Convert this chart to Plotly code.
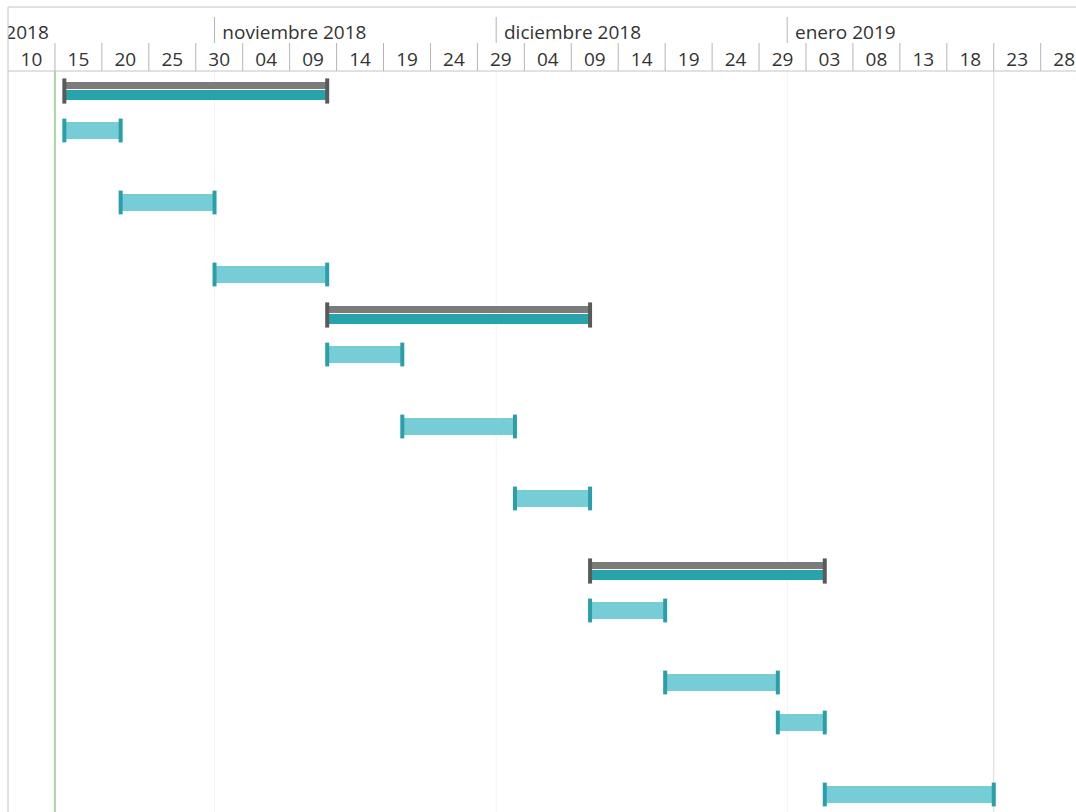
import pandas as pd
import plotly.graph_objects as go

# ---- schedule data ----
task_start = ["2018-10-16", "2018-10-16", "2018-10-22", "2018-11-01",
              "2018-11-13", "2018-11-13", "2018-11-21", "2018-12-03",
              "2018-12-11", "2018-12-11", "2018-12-19", "2018-12-31",
              "2019-01-05"]
task_end = ["2018-11-13", "2018-10-22", "2018-11-01", "2018-11-13",
            "2018-12-11", "2018-11-21", "2018-12-03", "2018-12-11",
            "2019-01-05", "2018-12-19", "2018-12-31", "2019-01-05",
            "2019-01-23"]
is_summary = [True, False, False, False, True, False, False, False,
              True, False, False, False, False]

today = "2018-10-15"
project_end = "2019-01-23"

# ---- timescale labels ----
month_starts = ["2018-10-01", "2018-11-01", "2018-12-01", "2019-01-01"]
month_labels = ["octubre 2018", "noviembre 2018", "diciembre 2018", "enero 2019"]
day_ticks = ["2018-10-10", "2018-10-15", "2018-10-20", "2018-10-25", "2018-10-30",
             "2018-11-04", "2018-11-09", "2018-11-14", "2018-11-19", "2018-11-24",
             "2018-11-29", "2018-12-04", "2018-12-09", "2018-12-14", "2018-12-19",
             "2018-12-24", "2018-12-29", "2019-01-03", "2019-01-08", "2019-01-13",
             "2019-01-18", "2019-01-23", "2019-01-28"]
view_start = "2018-10-10"
view_end = "2019-01-31 18:15"

# ---- layout constants (pixels) ----
W, H = 1076, 812
M_LEFT, M_TOP = 8, 7
HEADER_H = 64
BODY_H = H - M_TOP - HEADER_H
PLOT_H = H - M_TOP
row_heights = [40, 72, 72, 40, 40, 72, 72, 72, 40, 72, 40, 72, 40]
ROW_PAD = 20

FONT = "Open Sans"
TEXT_COLOR = "#333333"
TEAL = "#29a3ab"
TEAL_LIGHT = "#77cdd6"
TEAL_CAP = "#2a9fa9"
GREY_BAND = "#7b7b7b"
GREY_CAP = "#5a5a5a"

# row centres inside the body axis (reversed, one unit per pixel)
row_centers = []
acc = 0
for h in row_heights:
    row_centers.append(acc + ROW_PAD)
    acc += h

starts = pd.to_datetime(task_start)
ends = pd.to_datetime(task_end)
durations_ms = [(e - s).total_seconds() * 1000 for s, e in zip(starts, ends)]

fig = go.Figure()

sum_idx = [i for i, s in enumerate(is_summary) if s]
task_idx = [i for i, s in enumerate(is_summary) if not s]

# summary bars: grey band on top, teal band below
fig.add_trace(go.Bar(
    orientation="h",
    base=[task_start[i] for i in sum_idx],
    x=[durations_ms[i] for i in sum_idx],
    y=[row_centers[i] - 5.5 for i in sum_idx],
    width=7, marker=dict(color=GREY_BAND, line=dict(width=0)),
    hoverinfo="skip",
))
fig.add_trace(go.Bar(
    orientation="h",
    base=[task_start[i] for i in sum_idx],
    x=[durations_ms[i] for i in sum_idx],
    y=[row_centers[i] + 4 for i in sum_idx],
    width=10, marker=dict(color=TEAL, line=dict(width=0)),
    hoverinfo="skip",
))
# task bars
fig.add_trace(go.Bar(
    orientation="h",
    base=[task_start[i] for i in task_idx],
    x=[durations_ms[i] for i in task_idx],
    y=[row_centers[i] - 0.5 for i in task_idx],
    width=17, marker=dict(color=TEAL_LIGHT, line=dict(width=0)),
    hoverinfo="skip",
))

# end caps
for idx, size, color in ((sum_idx, 18, GREY_CAP), (task_idx, 17, TEAL_CAP)):
    xs, ys = [], []
    for i in idx:
        c = row_centers[i] if is_summary[i] else row_centers[i] - 0.5
        xs += [task_start[i], task_end[i]]
        ys += [c, c]
    fig.add_trace(go.Scatter(
        x=xs, y=ys, mode="markers",
        marker=dict(symbol="line-ns", size=size,
                    line=dict(width=4, color=color)),
        hoverinfo="skip",
    ))

# header: month row
fig.add_trace(go.Scatter(
    x=[pd.Timestamp(d) + pd.Timedelta(hours=20) for d in month_starts],
    y=[27] * len(month_starts),
    mode="text", text=month_labels, textposition="middle right",
    textfont=dict(family=FONT, size=19, color=TEXT_COLOR),
    cliponaxis=True, hoverinfo="skip", yaxis="y2",
))
# header: day row, label centred in each five-day cell
fig.add_trace(go.Scatter(
    x=[pd.Timestamp(d) + pd.Timedelta(days=2.5) for d in day_ticks],
    y=[54] * len(day_ticks),
    mode="text", text=[pd.Timestamp(d).strftime("%d") for d in day_ticks],
    textposition="middle center",
    textfont=dict(family=FONT, size=19, color=TEXT_COLOR),
    cliponaxis=True, hoverinfo="skip", yaxis="y2",
))

shapes = []
# month separators in the header and faint month gridlines in the body
for d in month_starts[1:]:
    shapes.append(dict(type="line", xref="x", yref="y2", x0=d, x1=d, y0=10, y1=36,
                       line=dict(color="#b4b4b4", width=1)))
    shapes.append(dict(type="line", xref="x", yref="y", x0=d, x1=d, y0=0, y1=BODY_H,
                       line=dict(color="#f3f3f3", width=1), layer="below"))
# day-cell separators
for d in day_ticks[1:]:
    shapes.append(dict(type="line", xref="x", yref="y2", x0=d, x1=d, y0=36, y1=64,
                       line=dict(color="#b4b4b4", width=1)))
# header rule, top border and left border
shapes.append(dict(type="line", xref="paper", yref="paper", x0=0, x1=1,
                   y0=BODY_H / PLOT_H, y1=BODY_H / PLOT_H,
                   line=dict(color="#c4c4c4", width=1)))
shapes.append(dict(type="line", xref="paper", yref="paper", x0=0, x1=1, y0=1, y1=1,
                   line=dict(color="#c4c4c4", width=1)))
shapes.append(dict(type="line", xref="paper", yref="paper", x0=0, x1=0, y0=0, y1=1,
                   line=dict(color="#c4c4c4", width=1)))
# today marker and project end marker
shapes.append(dict(type="line", xref="x", yref="y", x0=today, x1=today, y0=0, y1=BODY_H,
                   line=dict(color="#a9d6a3", width=2)))
shapes.append(dict(type="line", xref="x", yref="y", x0=project_end, x1=project_end,
                   y0=0, y1=BODY_H, line=dict(color="#dadada", width=1), layer="below"))

fig.update_layout(
    width=W, height=H,
    margin=dict(l=M_LEFT, r=0, t=M_TOP, b=0, pad=0),
    paper_bgcolor="white", plot_bgcolor="white",
    showlegend=False, barmode="overlay",
    xaxis=dict(type="date", range=[view_start, view_end], showgrid=False,
               zeroline=False, showticklabels=False, ticks="", showline=False),
    yaxis=dict(domain=[0, BODY_H / PLOT_H], range=[BODY_H, 0], visible=False,
               showgrid=False, zeroline=False),
    yaxis2=dict(domain=[BODY_H / PLOT_H, 1], range=[HEADER_H, 0], visible=False,
                showgrid=False, zeroline=False, anchor="x"),
    shapes=shapes,
)

fig.write_html("out.html")
